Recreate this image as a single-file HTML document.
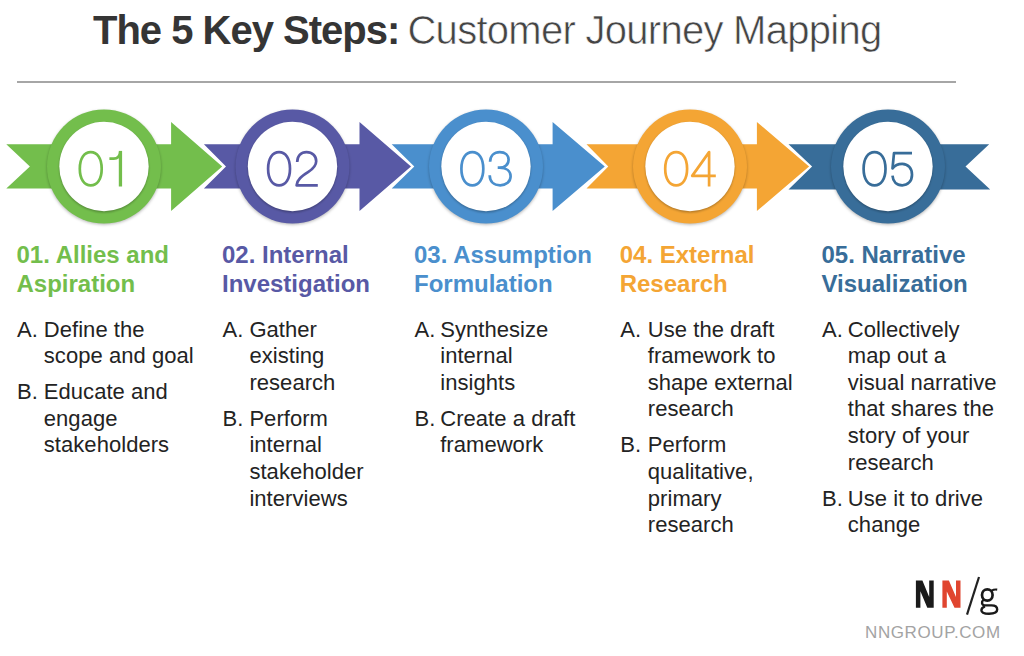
<!DOCTYPE html>
<html><head><meta charset="utf-8"><style>
html,body{margin:0;padding:0;background:#fff;width:1024px;height:656px;overflow:hidden;position:relative;font-family:"Liberation Sans",sans-serif}
svg{position:absolute;left:0;top:0}
.title{position:absolute;left:93px;top:9.9px;font-size:40px;line-height:40px;white-space:nowrap;color:#353535}
.title b{letter-spacing:-1px;font-weight:700}
.title span{margin-left:-3px;letter-spacing:-0.72px;-webkit-text-stroke:0.6px #fff;color:#444}
.rule{position:absolute;left:17px;top:81px;width:939px;height:2px;background:#a6a6a6}
.hd{position:absolute;top:241.2px;font-size:24px;line-height:28.7px;font-weight:700;white-space:nowrap}
.bd{position:absolute;top:316.6px;font-size:22px;line-height:26.6px;color:#232323;letter-spacing:0.05px;white-space:nowrap}
.it{display:flex;margin-bottom:9.4px}
.mk{display:inline-block;flex:none}
.url{position:absolute;left:865px;top:624px;font-size:17px;line-height:17px;color:#a3a3a3;letter-spacing:0.6px;white-space:nowrap}
</style></head><body>
<div class="title"><b>The 5 Key Steps:</b> <span>Customer Journey Mapping</span></div>
<div class="rule"></div>
<svg width="1024" height="656" viewBox="0 0 1024 656">
<defs><filter id="bl" x="-10%" y="-10%" width="120%" height="120%"><feGaussianBlur stdDeviation="1.4"/></filter><filter id="bl2" x="-10%" y="-10%" width="120%" height="120%"><feGaussianBlur stdDeviation="1.2"/></filter></defs>
<polygon fill="#73BE4C" points="6.3,144.3 171.1,144.3 171.1,121.9 222.2,166.5 171.1,211.1 171.1,188.5 6.3,188.5 29.9,166.5"/>
<polygon fill="#5859A5" points="203.9,144.3 359.5,144.3 359.5,121.9 411.0,166.5 359.5,211.1 359.5,188.5 203.9,188.5 226.0,166.5"/>
<polygon fill="#4A8FCD" points="391.7,144.3 552.6,144.3 552.6,121.9 604.8,166.5 552.6,211.1 552.6,188.5 391.7,188.5 414.3,166.5"/>
<polygon fill="#F4A534" points="586.5,144.3 756.9,144.3 756.9,121.9 809.1,166.5 756.9,211.1 756.9,188.5 586.5,188.5 608.3,166.5"/>
<polygon fill="#386D99" points="788.5,144.3 989.2,144.3 965.5,166.5 990.2,189.5 788.5,189.5 812.1,166.5"/>
<circle cx="104.0" cy="167.7" r="57" fill="#000" fill-opacity="0.28" filter="url(#bl)"/>
<circle cx="104.0" cy="166.5" r="57" fill="#73BE4C"/>
<circle cx="104.0" cy="167.7" r="44.7" fill="#000" fill-opacity="0.28" filter="url(#bl2)"/>
<circle cx="104.0" cy="166.5" r="44.7" fill="#fff"/>
<circle cx="292.5" cy="167.7" r="57" fill="#000" fill-opacity="0.28" filter="url(#bl)"/>
<circle cx="292.5" cy="166.5" r="57" fill="#5859A5"/>
<circle cx="292.5" cy="167.7" r="44.7" fill="#000" fill-opacity="0.28" filter="url(#bl2)"/>
<circle cx="292.5" cy="166.5" r="44.7" fill="#fff"/>
<circle cx="486.0" cy="167.7" r="57" fill="#000" fill-opacity="0.28" filter="url(#bl)"/>
<circle cx="486.0" cy="166.5" r="57" fill="#4A8FCD"/>
<circle cx="486.0" cy="167.7" r="44.7" fill="#000" fill-opacity="0.28" filter="url(#bl2)"/>
<circle cx="486.0" cy="166.5" r="44.7" fill="#fff"/>
<circle cx="690.0" cy="167.7" r="57" fill="#000" fill-opacity="0.28" filter="url(#bl)"/>
<circle cx="690.0" cy="166.5" r="57" fill="#F4A534"/>
<circle cx="690.0" cy="167.7" r="44.7" fill="#000" fill-opacity="0.28" filter="url(#bl2)"/>
<circle cx="690.0" cy="166.5" r="44.7" fill="#fff"/>
<circle cx="888.0" cy="167.7" r="57" fill="#000" fill-opacity="0.28" filter="url(#bl)"/>
<circle cx="888.0" cy="166.5" r="57" fill="#386D99"/>
<circle cx="888.0" cy="167.7" r="44.7" fill="#000" fill-opacity="0.28" filter="url(#bl2)"/>
<circle cx="888.0" cy="166.5" r="44.7" fill="#fff"/>
<g fill="none" stroke="#73BE4C" stroke-width="2.7" stroke-linejoin="round"><path transform="translate(78.4,150.7)" d="M12.35,1.4 C18.8,1.4 23.3,7.5 23.3,18 C23.3,28.5 18.8,34.6 12.35,34.6 C5.9,34.6 1.4,28.5 1.4,18 C1.4,7.5 5.9,1.4 12.35,1.4 Z"/><path transform="translate(106.7,150.7)" d="M2.7,7.9 L7,7.9 C10.8,7.9 13.2,5.6 13.6,1.2"/></g><rect x="118.80" y="150.9" width="3.3" height="35.6" fill="#73BE4C"/>
<g fill="none" stroke="#5859A5" stroke-width="2.7" stroke-linejoin="round"><path transform="translate(266.7,150.7)" d="M12.35,1.4 C18.8,1.4 23.3,7.5 23.3,18 C23.3,28.5 18.8,34.6 12.35,34.6 C5.9,34.6 1.4,28.5 1.4,18 C1.4,7.5 5.9,1.4 12.35,1.4 Z"/><path transform="translate(295.0,150.7)" d="M2.2,11.3 C2.4,5 6,1.4 11.5,1.4 C17.5,1.4 21.2,5.2 21.2,10.5 C21.2,15.5 17.5,18.5 13,21.5 C6.5,25.8 2,29 1.6,34.6 L22.8,34.6"/></g>
<g fill="none" stroke="#4A8FCD" stroke-width="2.7" stroke-linejoin="round"><path transform="translate(460.0,150.7)" d="M12.35,1.4 C18.8,1.4 23.3,7.5 23.3,18 C23.3,28.5 18.8,34.6 12.35,34.6 C5.9,34.6 1.4,28.5 1.4,18 C1.4,7.5 5.9,1.4 12.35,1.4 Z"/><path transform="translate(488.2,150.7)" d="M1.9,11.1 C2,5 6,1.4 11.6,1.4 C17,1.4 20.4,4.6 20.4,9 C20.4,13.8 16.5,17 11.5,17 L9.5,17 M11.5,17 C18,17 22.4,20.3 22.4,25.5 C22.4,31 18,34.6 12,34.6 C5.5,34.6 1.6,30.8 1.5,24.5"/></g>
<g fill="none" stroke="#F4A534" stroke-width="2.7" stroke-linejoin="round"><path transform="translate(663.8,150.7)" d="M12.35,1.4 C18.8,1.4 23.3,7.5 23.3,18 C23.3,28.5 18.8,34.6 12.35,34.6 C5.9,34.6 1.4,28.5 1.4,18 C1.4,7.5 5.9,1.4 12.35,1.4 Z"/><path transform="translate(691.0,150.7)" d="M18.1,35.8 L18.1,1.4 L1.2,25.2 L24.8,25.2"/></g>
<g fill="none" stroke="#386D99" stroke-width="2.7" stroke-linejoin="round"><path transform="translate(862.2,150.7)" d="M12.35,1.4 C18.8,1.4 23.3,7.5 23.3,18 C23.3,28.5 18.8,34.6 12.35,34.6 C5.9,34.6 1.4,28.5 1.4,18 C1.4,7.5 5.9,1.4 12.35,1.4 Z"/><path transform="translate(890.7,150.7)" d="M21.3,2.4 L3.3,2.4 L1.8,17.8 C4,14.8 7.5,13.2 11.5,13.2 C17.5,13.2 21.3,17.8 21.3,24 C21.3,30.5 17,34.6 11.5,34.6 C6,34.6 2.2,31 1.8,25"/></g>
<polygon fill="#1a1a1a" points="915.9,580.4 922.4,580.4 929.2,597 929.2,580.4 933.7,580.4 933.7,607.7 927.3,607.7 920.4,591.3 920.4,607.7 915.9,607.7"/>
<polygon fill="#E0452F" points="942.4,580.4 948.9,580.4 956,597 956,580.4 960.5,580.4 960.5,607.7 954.5,607.7 946.8,591.4 946.8,607.7 942.4,607.7"/>
<line x1="979" y1="577" x2="967" y2="614.7" stroke="#222" stroke-width="2.2"/>
<g fill="none" stroke="#1a1a1a"><ellipse cx="987.3" cy="595" rx="5.3" ry="5.6" stroke-width="2.7"/><path d="M991.6,590.6 Q994,589.2 997.2,589.6" stroke-width="2.2"/><path d="M983.8,599.6 C981.2,601.5 981.4,605 984.8,605.4 L991.5,605.4 C995.8,605.4 997.2,607.6 997.2,609.6 C997.2,612.6 993.5,613.7 989,613.7 C984.2,613.7 981.4,612.4 981.4,610.2 C981.4,608.2 983,607 985,606.3" stroke-width="2.4"/></g>
</svg>
<div class="hd" style="left:16.5px;color:#73BE4C">01. Allies and<br>Aspiration</div>
<div class="bd" style="left:17px"><div class="it"><span class="mk" style="width:26.8px">A.</span><span class="tx">Define the<br>scope and goal</span></div><div class="it"><span class="mk" style="width:26.8px">B.</span><span class="tx">Educate and<br>engage<br>stakeholders</span></div></div>
<div class="hd" style="left:222.0px;color:#5859A5">02. Internal<br>Investigation</div>
<div class="bd" style="left:222.5px"><div class="it"><span class="mk" style="width:26.9px">A.</span><span class="tx">Gather<br>existing<br>research</span></div><div class="it"><span class="mk" style="width:26.9px">B.</span><span class="tx">Perform<br>internal<br>stakeholder<br>interviews</span></div></div>
<div class="hd" style="left:414.0px;color:#4A8FCD">03. Assumption<br>Formulation</div>
<div class="bd" style="left:414.5px"><div class="it"><span class="mk" style="width:25.7px">A.</span><span class="tx">Synthesize<br>internal<br>insights</span></div><div class="it"><span class="mk" style="width:25.7px">B.</span><span class="tx">Create a draft<br>framework</span></div></div>
<div class="hd" style="left:619.7px;color:#F4A534">04. External<br>Research</div>
<div class="bd" style="left:620.2px"><div class="it"><span class="mk" style="width:27.6px">A.</span><span class="tx">Use the draft<br>framework to<br>shape external<br>research</span></div><div class="it"><span class="mk" style="width:27.6px">B.</span><span class="tx">Perform<br>qualitative,<br>primary<br>research</span></div></div>
<div class="hd" style="left:821.5px;color:#386D99">05. Narrative<br>Visualization</div>
<div class="bd" style="left:822px"><div class="it"><span class="mk" style="width:25.8px">A.</span><span class="tx">Collectively<br>map out a<br>visual narrative<br>that shares the<br>story of your<br>research</span></div><div class="it"><span class="mk" style="width:25.8px">B.</span><span class="tx">Use it to drive<br>change</span></div></div>
<div class="url">NNGROUP.COM</div>
</body></html>
